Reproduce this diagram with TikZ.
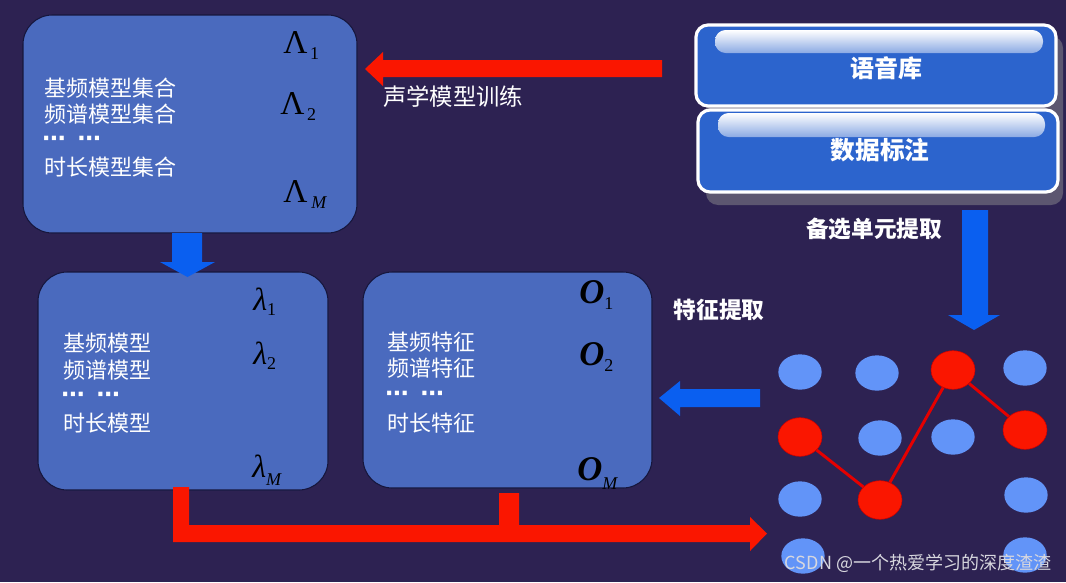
\documentclass[tikz,border=0pt]{standalone}
\usepackage{fontspec}
\newfontfamily\cjk{Noto Sans CJK SC}
\newfontfamily\tms{Liberation Serif}
\newfontfamily\djv{DejaVu Sans}
\usetikzlibrary{shapes.geometric}
\definecolor{bgc}{RGB}{45,34,82}
\definecolor{boxc}{RGB}{74,106,190}
\definecolor{boxedge}{RGB}{22,22,60}
\definecolor{dbc}{RGB}{44,100,205}
\definecolor{shadowc}{RGB}{92,86,112}
\definecolor{redc}{RGB}{250,22,0}
\definecolor{bluec}{RGB}{10,95,240}
\definecolor{dotblue}{RGB}{98,148,248}
\definecolor{wmc}{RGB}{215,215,222}
\newcommand{\greekfont}[1]{\tms\fontsize{#1}{#1}\selectfont}
\newcommand{\subfont}{\tms\mdseries\itshape\fontsize{13.5}{13.5}\selectfont}
\newcommand{\subfontup}{\tms\mdseries\upshape\fontsize{13.5}{13.5}\selectfont}
\newcommand{\mydots}{\djv\bfseries\fontsize{17.5}{17.5}\selectfont ⋯\hspace{9pt}⋯}
\begin{document}
\begin{tikzpicture}[x=0.75pt,y=-0.75pt,
  modelbox/.style={draw=boxedge, line width=0.8pt, fill=boxc, rounded corners=22pt, inner sep=0pt},
  dbbox/.style={draw=white, line width=2.4pt, fill=dbc, rounded corners=9pt},
  gloss/.style={top color=white, bottom color=white!45!dbc, rounded corners=8pt},
  txt/.style={text=white, font=\cjk\fontsize{16.5}{19}\selectfont, inner sep=0pt, anchor=west},
  dotline/.style={text=white, inner sep=0pt, anchor=west, text height=2pt, text depth=0pt},
  lbl/.style={text=white, font=\cjk\bfseries\fontsize{17}{19}\selectfont, inner sep=0pt},
  sym/.style={text=black, inner sep=0pt, anchor=base west},
  bdot/.style={ellipse, fill=dotblue, minimum width=32.5pt, minimum height=26.5pt, inner sep=0pt},
  rdot/.style={ellipse, fill=redc, draw=red!80!black, line width=0.4pt, minimum width=33pt, minimum height=29pt, inner sep=0pt},
  redarrow/.style={fill=redc},
  bluearrow/.style={fill=bluec}
]
\fill[bgc] (0,0) rectangle (1066,582);
\useasboundingbox (0,0) rectangle (1066,582);

% ---------- model boxes ----------
\node[modelbox, minimum width=250.5pt, minimum height=163.5pt] (b1) at (190,124) {};
\node[modelbox, minimum width=217.5pt, minimum height=163.5pt] (b2) at (183,381) {};
\node[modelbox, minimum width=216.75pt, minimum height=162pt] (b3) at (507.5,380) {};

% box 1 texts
\node[txt] (t11) at (44,88) {基频模型集合};
\node[txt] (t12) at (44,114) {频谱模型集合};
\node[dotline] (t13) at (42,145) {\mydots};
\node[txt] (t14) at (44,167) {时长模型集合};
\node[sym] (L1) at (283,53) {\greekfont{25}Λ\hspace{2pt}\raisebox{-4.5pt}{\subfontup 1}};
\node[sym] (L2) at (280,114) {\greekfont{25}Λ\hspace{2pt}\raisebox{-4.5pt}{\subfontup 2}};
\node[sym] (LM) at (283,202) {\greekfont{25}Λ\hspace{3pt}\raisebox{-4.5pt}{\subfont M}};

% box 2 texts
\node[txt] (t21) at (63,343) {基频模型};
\node[txt] (t22) at (63,370) {频谱模型};
\node[dotline] (t23) at (61,401) {\mydots};
\node[txt] (t24) at (63,423) {时长模型};
\node[sym] (l1) at (253,310) {\greekfont{24}\itshape λ\raisebox{-3.75pt}{\subfontup 1}};
\node[sym] (l2) at (253,364) {\greekfont{24}\itshape λ\raisebox{-3.75pt}{\subfontup 2}};
\node[sym] (lM) at (252,477) {\greekfont{24}\itshape λ\raisebox{-6pt}{\subfont M}};

% box 3 texts
\node[txt] (t31) at (387,342) {基频特征};
\node[txt] (t32) at (387,368) {频谱特征};
\node[dotline] (t33) at (385,400) {\mydots};
\node[txt] (t34) at (387,423) {时长特征};
\node[sym] (o1) at (579,303) {\greekfont{26}\bfseries\itshape O\raisebox{-5pt}{\subfontup 1}};
\node[sym] (o2) at (579,365) {\greekfont{26}\bfseries\itshape O\raisebox{-5pt}{\subfontup 2}};
\node[sym] (oM) at (577,480) {\greekfont{26}\bfseries\itshape O\raisebox{-7pt}{\subfont M}};

% ---------- database boxes ----------
\fill[shadowc, rounded corners=9pt] (706,36) rectangle (1063,205);
\draw[dbbox] (696,25) rectangle (1056,106);
\shade[gloss] (715,30) rectangle (1043,53);
\node[lbl, font=\cjk\bfseries\fontsize{18}{20}\selectfont] (db1) at (886,68) {语音库};
\draw[dbbox] (698,110) rectangle (1058,192);
\shade[gloss] (718,113) rectangle (1045,137);
\node[lbl, font=\cjk\bfseries\fontsize{18.5}{20}\selectfont] (db2) at (880,150) {数据标注};

% ---------- arrows ----------
\fill[redarrow] (662,60) -- (383,60) -- (383,52) -- (365,69) -- (383,86) -- (383,77) -- (662,77) -- cycle;
\node[text=white, font=\cjk\fontsize{17.5}{19}\selectfont, inner sep=0pt, anchor=west] (lab1) at (383,97) {声学模型训练};

\fill[bluearrow] (172,233) -- (202,233) -- (202,262) -- (215,262) -- (187.5,277) -- (160,262) -- (172,262) -- cycle;

\fill[bluearrow] (962,210) -- (988,210) -- (988,315) -- (1000,315) -- (974,330) -- (948,315) -- (962,315) -- cycle;
\node[lbl] (lab2) at (874,229) {备选单元提取};

\fill[bluearrow] (760,389) -- (680,389) -- (680,381) -- (659,398) -- (680,416) -- (680,407) -- (760,407) -- cycle;
\node[lbl] (lab3) at (719,310) {特征提取};

\fill[redarrow] (173,487) -- (189,487) -- (189,525) -- (499,525) -- (499,493) -- (519,493) -- (519,525)
  -- (750,525) -- (750,517) -- (767,533.5) -- (750,551) -- (750,542) -- (173,542) -- cycle;

% ---------- lattice ----------
\node[bdot] (d11) at (800,372) {};
\node[bdot] (d12) at (877,373) {};
\node[rdot] (d13) at (953,370) {};
\node[bdot] (d14) at (1025,368) {};
\node[rdot] (d21) at (800,437) {};
\node[bdot] (d22) at (880,438) {};
\node[bdot] (d23) at (953,437) {};
\node[rdot] (d24) at (1025,430) {};
\node[bdot] (d31) at (800,499) {};
\node[rdot] (d32) at (880,500) {};
\node[bdot] (d34) at (1026,495) {};
\node[bdot] (d41) at (803,556) {};
\node[bdot] (d44) at (1025,555) {};
\draw[red!90!black, line width=2.2pt] (d21) -- (d32) -- (d13) -- (d24);

% watermark
\node[text=wmc, font=\cjk\fontsize{13.5}{15}\selectfont, inner sep=0pt] (wm) at (918,563) {CSDN @一个热爱学习的深度渣渣};
\end{tikzpicture}
\end{document}
